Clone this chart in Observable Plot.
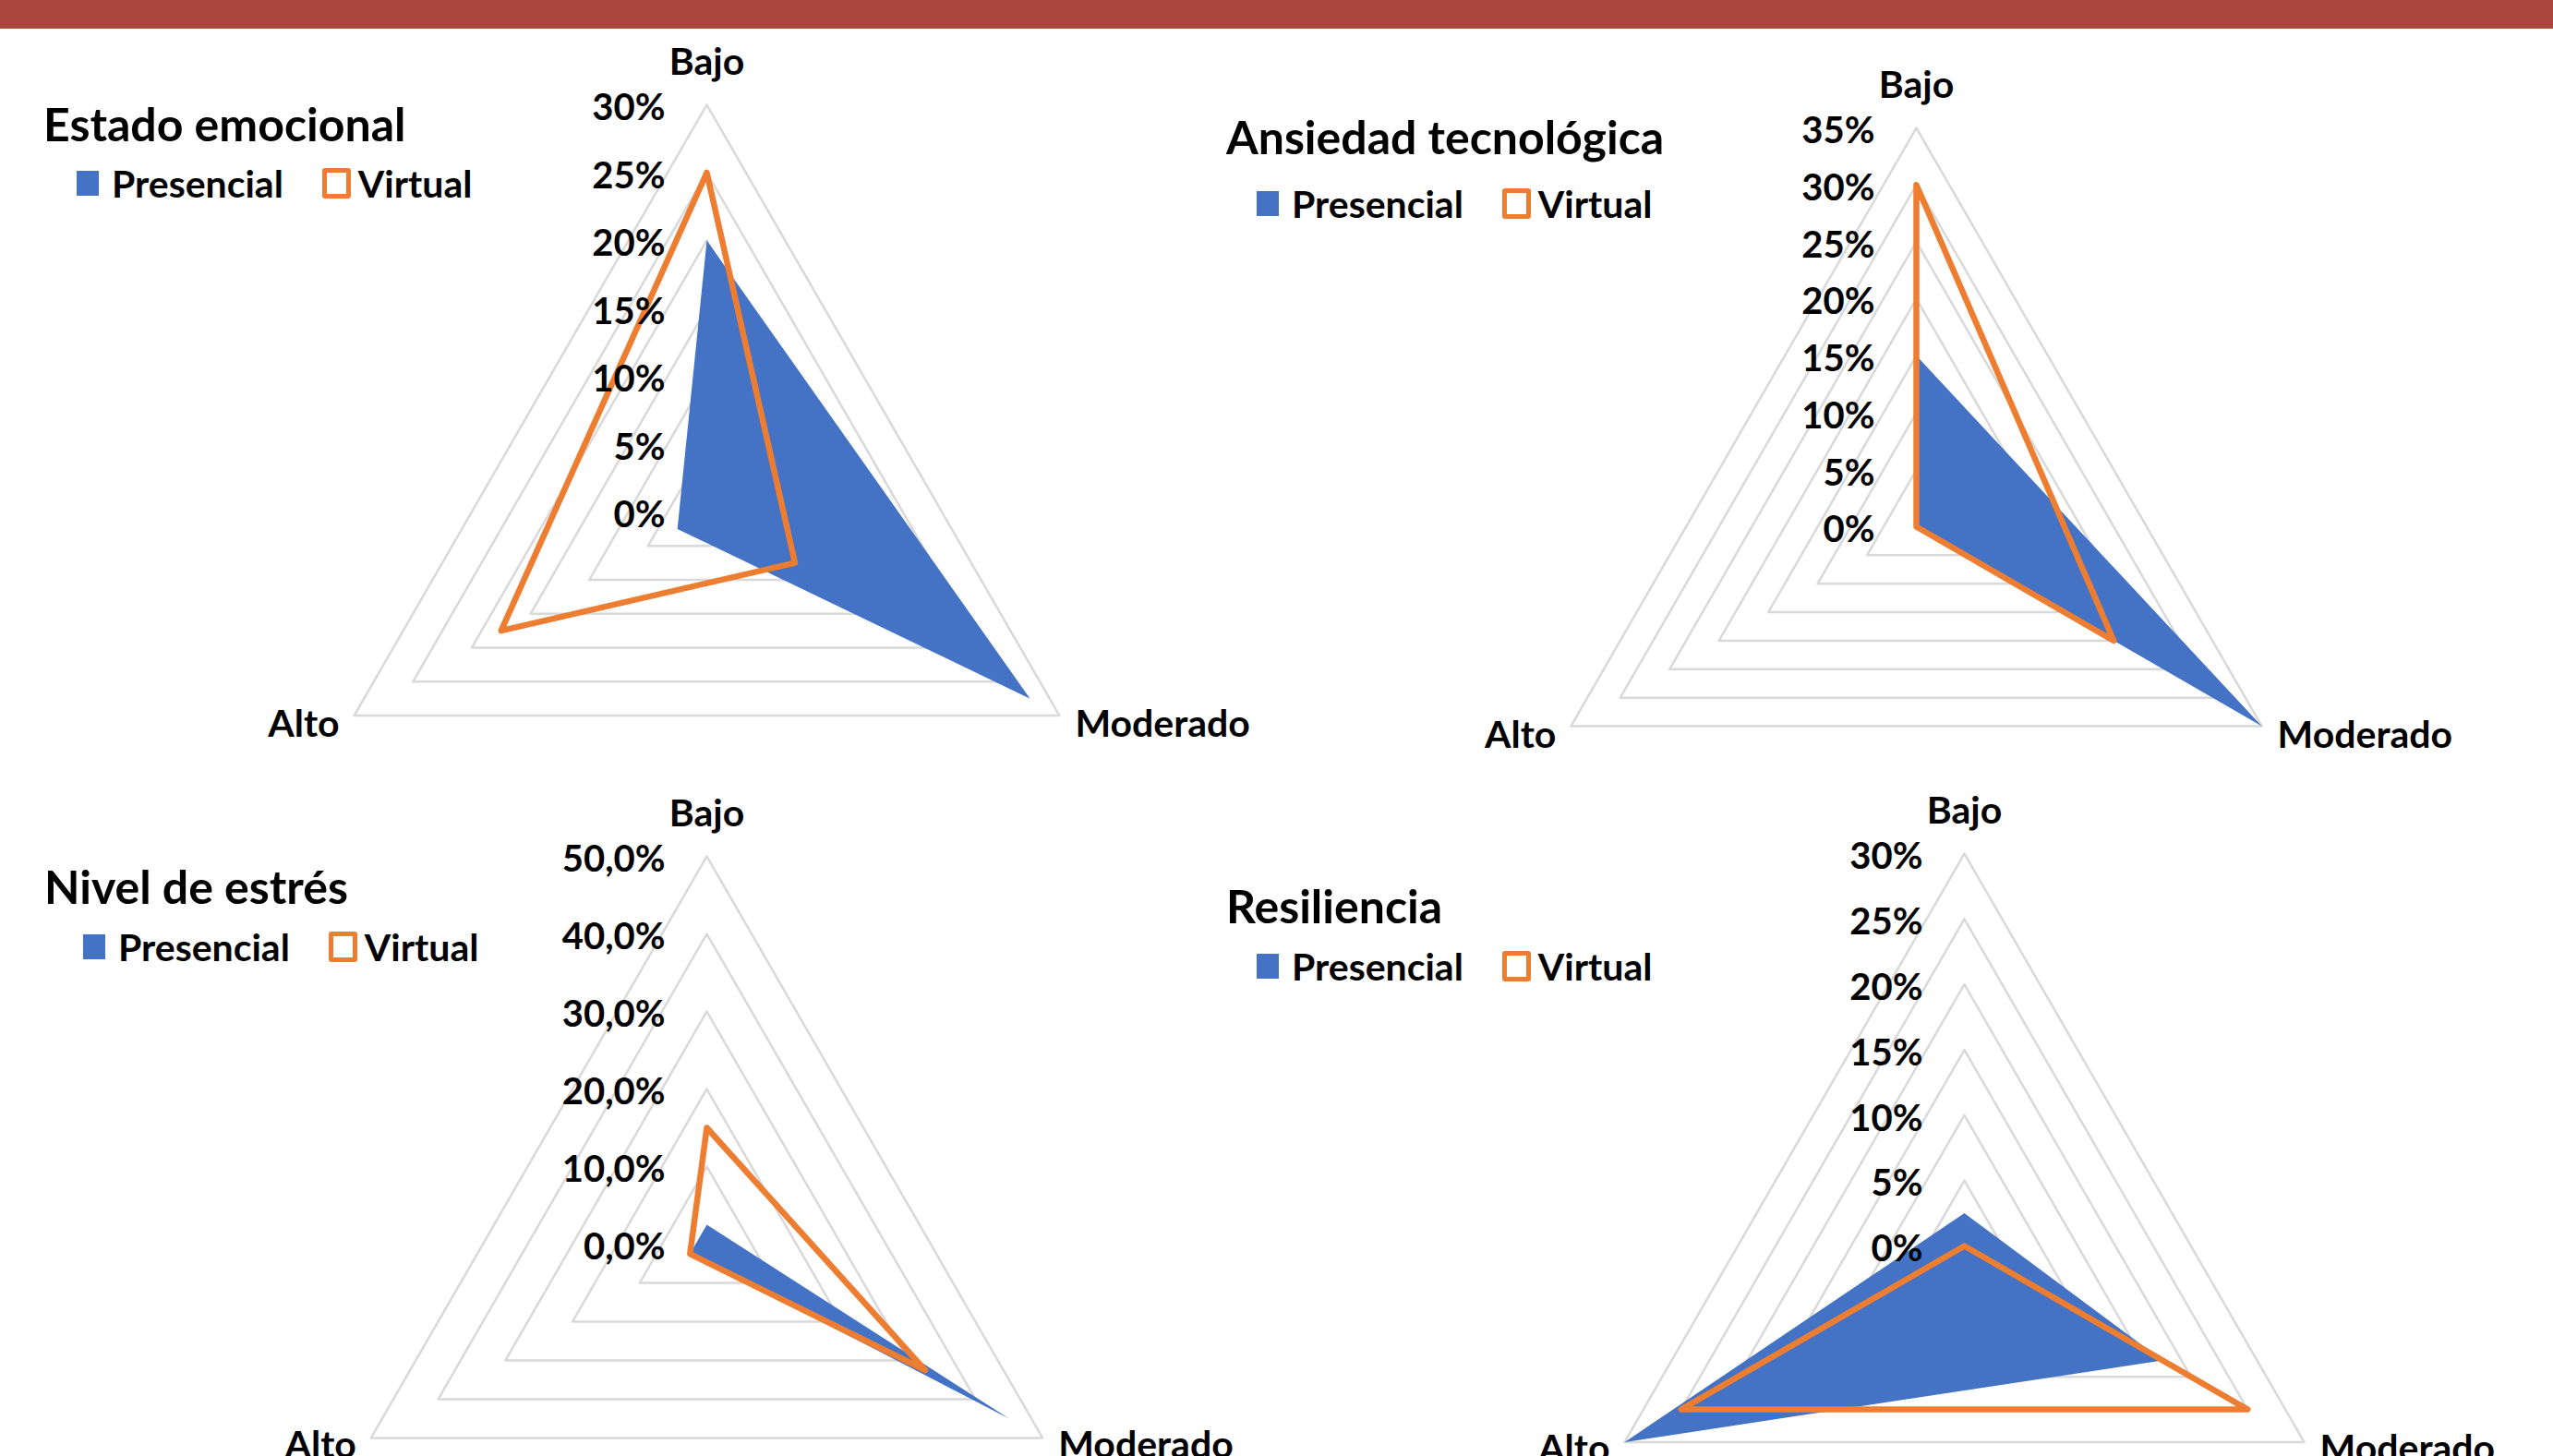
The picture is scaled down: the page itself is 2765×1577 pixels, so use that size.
<!DOCTYPE html>
<html>
<head>
<meta charset="utf-8">
<script src="https://cdn.jsdelivr.net/npm/d3@7"></script>
<script src="https://cdn.jsdelivr.net/npm/@observablehq/plot@0.6"></script>
<style>
  html, body { margin: 0; padding: 0; background: #fff; }
  body { width: 2765px; height: 1577px; overflow: hidden; position: relative; font-family: Lato, "Open Sans", sans-serif; }
  .bar { position: absolute; left: 0; top: 0; width: 2765px; height: 31px; background: #A9473E; }
  .title { position: absolute; font-weight: 700; font-size: 50px; line-height: 50px; color: #000; white-space: nowrap; }
  .legend { position: absolute; display: flex; align-items: center; font-weight: 700; font-size: 41px; line-height: 41px; color: #000; white-space: nowrap; }
  .sw-fill { width: 24px; height: 27px; background: #4472C4; margin-right: 14px; }
  .sw-line { width: 31px; height: 33px; box-sizing: border-box; border: 5.5px solid #ED7D31; border-radius: 3px; margin-left: 42px; margin-right: 8px; }
  .chart { position: absolute; }
</style>
</head>
<body>
<div class="bar"></div>
<script>
// ---------- data ----------
const categories = ["Bajo", "Moderado", "Alto"];
const seriesNames = ["Presencial", "Virtual"];
const chartTitles = ["Estado emocional", "Ansiedad tecnológica", "Nivel de estrés", "Resiliencia"];

const estadoPresencial = [20, 27.5, 2.5];
const estadoVirtual = [25, 7.5, 17.5];
const ansiedadPresencial = [15, 35, 0];
const ansiedadVirtual = [30, 20, 0];
const estresPresencial = [2.5, 45, 2.5];
const estresVirtual = [15, 32.5, 2.5];
const resilienciaPresencial = [2.5, 17.5, 30];
const resilienciaVirtual = [0, 25, 25];

const estadoTicks = [0, 5, 10, 15, 20, 25, 30];
const estadoTickLabels = ["0%", "5%", "10%", "15%", "20%", "25%", "30%"];
const ansiedadTicks = [0, 5, 10, 15, 20, 25, 30, 35];
const ansiedadTickLabels = ["0%", "5%", "10%", "15%", "20%", "25%", "30%", "35%"];
const estresTicks = [0, 10, 20, 30, 40, 50];
const estresTickLabels = ["0,0%", "10,0%", "20,0%", "30,0%", "40,0%", "50,0%"];
const resilienciaTicks = [0, 5, 10, 15, 20, 25, 30];
const resilienciaTickLabels = ["0%", "5%", "10%", "15%", "20%", "25%", "30%"];

// ---------- layout / style ----------
const FONT = "Lato, 'Open Sans', sans-serif";
const BLUE = "#4472C4", ORANGE = "#ED7D31", GRID = "#D9D9D9";
const layouts = [
  {left: 0,    top: 31,  width: 1382, height: 800, cx: 765,  cy: 554,  R: 441, titleX: 47,   titleTop: 109, legendX: 83,   legendY: 198, bottomDy: 10},
  {left: 1382, top: 31,  width: 1383, height: 800, cx: 2075, cy: 570,  R: 432, titleX: 1328, titleTop: 123, legendX: 1361, legendY: 220, bottomDy: 10},
  {left: 0,    top: 831, width: 1382, height: 746, cx: 765,  cy: 1347, R: 420, titleX: 48,   titleTop: 935, legendX: 90,   legendY: 1025, bottomDy: 8},
  {left: 1382, top: 831, width: 1383, height: 746, cx: 2127, cy: 1349, R: 425, titleX: 1328, titleTop: 956, legendX: 1361, legendY: 1046, bottomDy: 8}
];
const labelPlacement = {
  Bajo:     {anchor: "middle", dx: 0,   dy: -46},
  Moderado: {anchor: "start",  dx: 17,  dy: 0},
  Alto:     {anchor: "end",    dx: -16, dy: 0}
};
const charts = [
  {pres: estadoPresencial, virt: estadoVirtual, ticks: estadoTicks, tickLabels: estadoTickLabels},
  {pres: ansiedadPresencial, virt: ansiedadVirtual, ticks: ansiedadTicks, tickLabels: ansiedadTickLabels},
  {pres: estresPresencial, virt: estresVirtual, ticks: estresTicks, tickLabels: estresTickLabels},
  {pres: resilienciaPresencial, virt: resilienciaVirtual, ticks: resilienciaTicks, tickLabels: resilienciaTickLabels}
];

const angle = i => (i * 2 * Math.PI) / categories.length; // Bajo up, clockwise
const pt = (v, i) => ({x: v * Math.sin(angle(i)), y: v * Math.cos(angle(i))});

charts.forEach((c, ci) => {
  const L = layouts[ci];
  const max = c.ticks[c.ticks.length - 1];
  const k = L.R / max;
  const lcx = L.cx - L.left, lcy = L.cy - L.top;

  const rings = c.ticks.filter(t => t > 0).flatMap(t => categories.map((cat, i) => ({t, ...pt(t, i)})));
  const presPts = c.pres.map((v, i) => pt(v, i));
  const virtPts = c.virt.map((v, i) => pt(v, i));
  const tickData = c.ticks.map((t, i) => ({t, label: c.tickLabels[i]}));
  const labelData = categories.map((cat, i) => ({cat, ...pt(max, i)}));

  const marks = [
    Plot.line(rings, {x: "x", y: "y", z: "t", curve: "linear-closed", stroke: GRID, strokeWidth: 2.5}),
    Plot.line(presPts, {x: "x", y: "y", curve: "linear-closed", fill: BLUE, stroke: "none"}),
    Plot.line(virtPts, {x: "x", y: "y", curve: "linear-closed", stroke: ORANGE, strokeWidth: 6.5, strokeLinejoin: "round"}),
    Plot.text(tickData, {x: () => 0, y: "t", text: "label", textAnchor: "end", dx: -45, dy: 4, fontSize: 40, fontWeight: 700, fill: "#000"})
  ];
  for (const cat of categories) {
    const p = labelPlacement[cat];
    const dy = cat === "Bajo" ? p.dy : L.bottomDy;
    marks.push(Plot.text(labelData.filter(d => d.cat === cat), {x: "x", y: "y", text: "cat", textAnchor: p.anchor, dx: p.dx, dy, fontSize: 41, fontWeight: 700, fill: "#000"}));
  }

  const svg = Plot.plot({
    width: L.width,
    height: L.height,
    margin: 0,
    x: {domain: [-lcx / k, (L.width - lcx) / k], axis: null},
    y: {domain: [(lcy - L.height) / k, lcy / k], axis: null},
    style: {fontFamily: FONT, background: "transparent", overflow: "visible"},
    marks
  });
  const wrap = document.createElement("div");
  wrap.className = "chart";
  wrap.style.left = L.left + "px";
  wrap.style.top = L.top + "px";
  wrap.appendChild(svg);
  document.body.appendChild(wrap);

  const title = document.createElement("div");
  title.className = "title";
  title.style.left = L.titleX + "px";
  title.style.top = L.titleTop + "px";
  title.textContent = chartTitles[ci];
  document.body.appendChild(title);

  const legend = document.createElement("div");
  legend.className = "legend";
  legend.style.left = L.legendX + "px";
  legend.style.top = (L.legendY - 21) + "px";
  legend.style.height = "42px";
  legend.innerHTML = `<span class="sw-fill"></span><span>${seriesNames[0]}</span><span class="sw-line"></span><span>${seriesNames[1]}</span>`;
  document.body.appendChild(legend);
});
</script>
</body>
</html>
